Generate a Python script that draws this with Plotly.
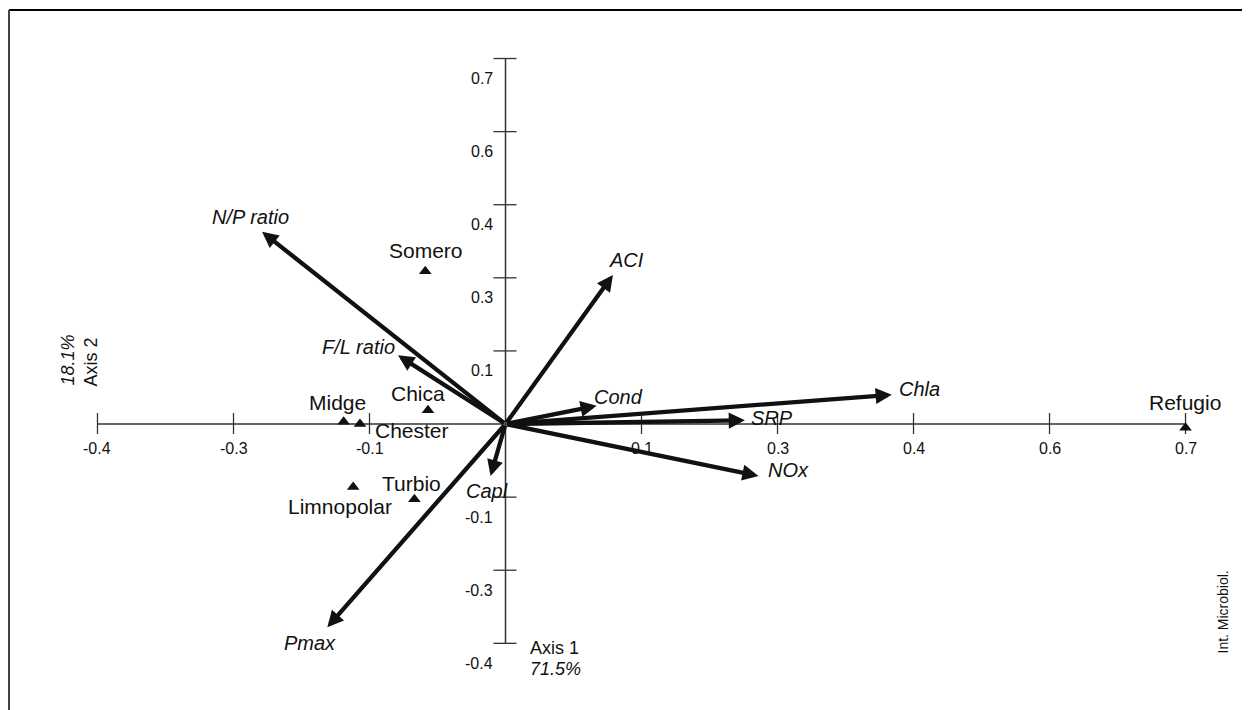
import plotly.graph_objects as go

# ---------------- data ----------------
# Environmental variable vectors (arrow tips), in plot units (0.1 per tick)
var_names = ["N/P ratio", "F/L ratio", "ACI", "Cond", "Chla", "SRP", "NOx", "Capl", "Pmax"]
var_x = [-0.179, -0.079, 0.079, 0.067, 0.284, 0.176, 0.186, -0.011, -0.131]
var_y = [0.263, 0.094, 0.204, 0.025, 0.040, 0.005, -0.071, -0.071, -0.278]

# Sites (triangles)
site_names = ["Somero", "Chica", "Midge", "Chester", "Turbio", "Limnopolar", "Refugio"]
site_x = [-0.059, -0.057, -0.119, -0.107, -0.067, -0.112, 0.500]
site_y = [0.209, 0.019, 0.003, 0.000, -0.103, -0.086, -0.005]

# Axis ticks (positions) and their printed labels
x_tick_pos = [-0.3, -0.2, -0.1, 0.1, 0.2, 0.3, 0.4, 0.5]
x_tick_labels = ["-0.4", "-0.3", "-0.1", "0.1", "0.3", "0.4", "0.6", "0.7"]
y_tick_pos = [-0.3, -0.2, -0.1, 0.1, 0.2, 0.3, 0.4, 0.5]
y_tick_labels = ["-0.4", "-0.3", "-0.1", "0.1", "0.3", "0.4", "0.6", "0.7"]

# ---------------- style ----------------
FONT = "Liberation Sans, Arial, Helvetica, sans-serif"
INK = "#111111"
AXC = "#333333"
W, H = 1242, 702

# label offsets in pixels (dx right, dy up)
var_label_off = {
    "N/P ratio": (-12, 15), "F/L ratio": (-40, 8), "ACI": (14, 15), "Cond": (22, 9),
    "Chla": (28, 6), "SRP": (27, 2), "NOx": (30, 6), "Capl": (-4, -15), "Pmax": (-17, -16),
}
site_label_off = {
    "Somero": (1, 21), "Chica": (-10, 17), "Midge": (-6, 19), "Chester": (52, -6),
    "Turbio": (-3, 16), "Limnopolar": (-13, -20), "Refugio": (-1, 25),
}

fig = go.Figure()

shapes = []
# axis lines through origin
shapes.append(dict(type="line", x0=x_tick_pos[0], x1=x_tick_pos[-1], y0=0, y1=0,
                   line=dict(color=AXC, width=1.5), layer="below"))
shapes.append(dict(type="line", x0=0, x1=0, y0=y_tick_pos[0], y1=y_tick_pos[-1],
                   line=dict(color=AXC, width=1.5), layer="below"))
# ticks
for xv in x_tick_pos:
    shapes.append(dict(type="line", xref="x", yref="y", x0=xv, x1=xv,
                       ysizemode="pixel", yanchor=0, y0=-10, y1=11,
                       line=dict(color=AXC, width=1.3), layer="below"))
for yv in y_tick_pos:
    shapes.append(dict(type="line", xref="x", yref="y", y0=yv, y1=yv,
                       xsizemode="pixel", xanchor=0, x0=-12, x1=11,
                       line=dict(color=AXC, width=1.3), layer="below"))
# outer frame (top and left edges visible)
shapes.append(dict(type="line", xref="paper", yref="paper", x0=1 / W, x1=1.01,
                   y0=1 - 2 / H, y1=1 - 2 / H, line=dict(color="#000000", width=2)))
shapes.append(dict(type="line", xref="paper", yref="paper", x0=1 / W, x1=1 / W,
                   y0=1 - 2 / H, y1=-0.02, line=dict(color="#444444", width=2)))

annotations = []
# tick labels
for xv, lab in zip(x_tick_pos, x_tick_labels):
    annotations.append(dict(x=xv, y=0, text=lab, showarrow=False, yshift=-24,
                            font=dict(family=FONT, size=16, color=INK)))
for yv, lab in zip(y_tick_pos, y_tick_labels):
    annotations.append(dict(x=0, y=yv, text=lab, showarrow=False, xshift=-11, yshift=-20,
                            xanchor="right", font=dict(family=FONT, size=16, color=INK)))

# arrows for variables
for name, xv, yv in zip(var_names, var_x, var_y):
    annotations.append(dict(x=xv, y=yv, ax=0, ay=0, axref="x", ayref="y", xref="x", yref="y",
                            text="", showarrow=True, arrowhead=2, arrowsize=0.75,
                            arrowwidth=4.3, arrowcolor=INK, standoff=0, startstandoff=0))
for name, xv, yv in zip(var_names, var_x, var_y):
    dx, dy = var_label_off[name]
    annotations.append(dict(x=xv, y=yv, text="<i>" + name + "</i>", showarrow=False,
                            xshift=dx, yshift=dy, font=dict(family=FONT, size=20, color=INK)))

# site labels
for name, xv, yv in zip(site_names, site_x, site_y):
    dx, dy = site_label_off[name]
    annotations.append(dict(x=xv, y=yv, text=name, showarrow=False,
                            xshift=dx, yshift=dy, font=dict(family=FONT, size=21, color=INK)))

# axis titles
annotations.append(dict(x=0, y=y_tick_pos[0], text="Axis 1", showarrow=False, xanchor="left",
                        xshift=22, yshift=-5, font=dict(family=FONT, size=18, color=INK)))
annotations.append(dict(x=0, y=y_tick_pos[0], text="<i>71.5%</i>", showarrow=False, xanchor="left",
                        xshift=22, yshift=-26, font=dict(family=FONT, size=18, color=INK)))
annotations.append(dict(x=x_tick_pos[0], y=0, text="Axis 2", showarrow=False, textangle=-90,
                        xshift=-6, yshift=62, font=dict(family=FONT, size=18, color=INK)))
annotations.append(dict(x=x_tick_pos[0], y=0, text="<i>18.1%</i>", showarrow=False, textangle=-90,
                        xshift=-29, yshift=64, font=dict(family=FONT, size=18, color=INK)))
# credit
annotations.append(dict(xref="paper", yref="paper", x=1224 / W, y=1 - 648 / H,
                        text="Int. Microbiol.", showarrow=False, textangle=-90,
                        font=dict(family=FONT, size=14, color=INK)))

fig.add_trace(go.Scatter(x=site_x, y=site_y, mode="markers", text=site_names,
                         marker=dict(symbol="triangle-up", size=11, color=INK),
                         hoverinfo="text", showlegend=False))

fig.update_layout(
    width=W, height=H,
    margin=dict(l=0, r=0, t=0, b=0),
    paper_bgcolor="white", plot_bgcolor="white",
    xaxis=dict(range=[-0.3658, 0.5474], visible=False, fixedrange=True),
    yaxis=dict(range=[-0.3912, 0.5691], visible=False, fixedrange=True),
    shapes=shapes, annotations=annotations, showlegend=False,
)

fig.write_html("out.html")
